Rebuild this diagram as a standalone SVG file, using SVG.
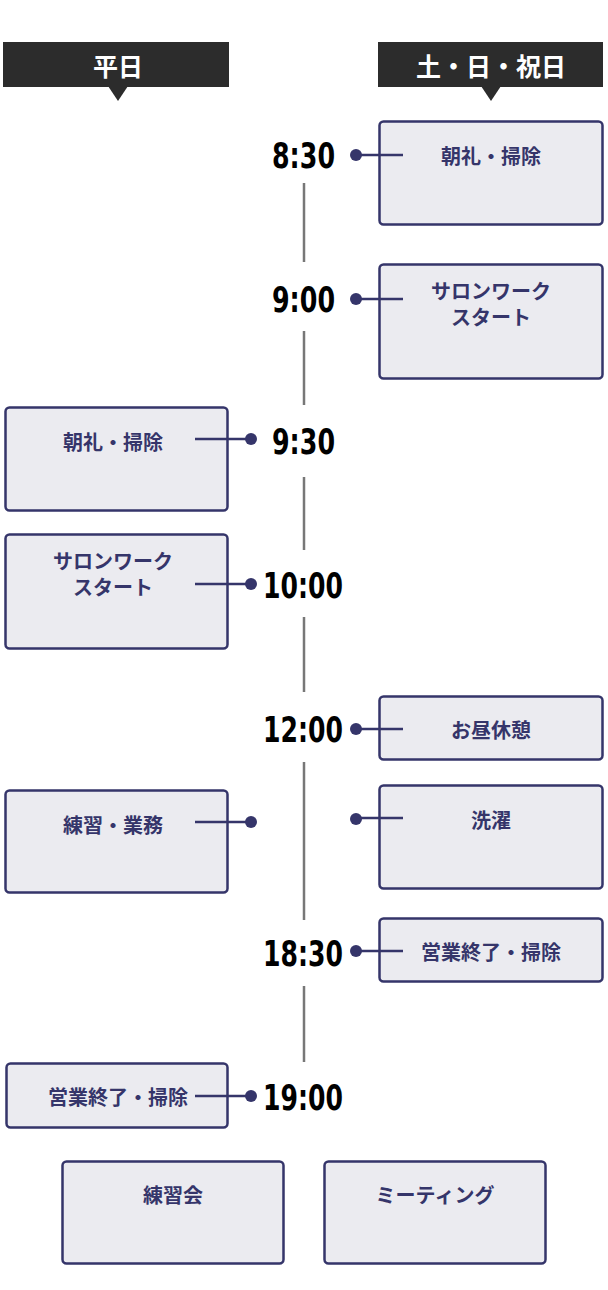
<svg xmlns="http://www.w3.org/2000/svg" width="608" height="1290" viewBox="0 0 608 1290">
<style>
.hdr{fill:#2c2c2c}
.hdrt{fill:#ffffff;font-family:"Noto Sans CJK JP",sans-serif;font-weight:700;font-size:25px;text-anchor:middle;dominant-baseline:central}
.box{fill:#ebebf0;stroke:#35356a;stroke-width:2.5}
.bt{fill:#35356a;font-family:"Noto Sans CJK JP",sans-serif;font-weight:700;font-size:20px;text-anchor:middle;dominant-baseline:central}
.tm{fill:#000000;font-family:"DejaVu Sans Condensed","DejaVu Sans",sans-serif;font-weight:700;font-size:36px;dominant-baseline:central}
.tl{stroke:#777777;stroke-width:2.5}
.cn{stroke:#35356a;stroke-width:2.5}
.dot{fill:#35356a}
</style>
<g id="header-weekday">
<rect class="hdr" x="3" y="42" width="226" height="45"/>
<polygon class="hdr" points="108,86 128,86 118,101"/>
<text class="hdrt" x="118" y="65">平日</text>
</g>
<g id="header-weekend">
<rect class="hdr" x="378" y="42" width="225" height="45"/>
<polygon class="hdr" points="481,86 501,86 491,101"/>
<text class="hdrt" x="491" y="65">土・日・祝日</text>
</g>
<g id="timeline">
<line class="tl" x1="304" y1="183" x2="304" y2="262"/>
<line class="tl" x1="304" y1="331" x2="304" y2="405"/>
<line class="tl" x1="304" y1="477" x2="304" y2="550"/>
<line class="tl" x1="304" y1="617" x2="304" y2="692"/>
<line class="tl" x1="304" y1="762" x2="304" y2="920"/>
<line class="tl" x1="304" y1="986" x2="304" y2="1062"/>
</g>
<g id="times">
<text class="tm" x="272" y="155" textLength="63" lengthAdjust="spacingAndGlyphs">8:30</text>
<text class="tm" x="272" y="299" textLength="63" lengthAdjust="spacingAndGlyphs">9:00</text>
<text class="tm" x="272" y="441" textLength="63" lengthAdjust="spacingAndGlyphs">9:30</text>
<text class="tm" x="263" y="585" textLength="80" lengthAdjust="spacingAndGlyphs">10:00</text>
<text class="tm" x="263" y="729" textLength="80" lengthAdjust="spacingAndGlyphs">12:00</text>
<text class="tm" x="263" y="953" textLength="80" lengthAdjust="spacingAndGlyphs">18:30</text>
<text class="tm" x="263" y="1097" textLength="80" lengthAdjust="spacingAndGlyphs">19:00</text>
</g>
<g id="n-weekend-morning">
<rect class="box" x="379.5" y="121.5" width="223" height="103" rx="4"/>
<text class="bt" x="491" y="155">朝礼・掃除</text>
</g>
<g id="n-weekend-salon">
<rect class="box" x="379.5" y="264.5" width="223" height="114" rx="4"/>
<text class="bt" x="491" y="290">サロンワーク</text>
<text class="bt" x="491" y="316">スタート</text>
</g>
<g id="n-weekday-morning">
<rect class="box" x="5.5" y="407.5" width="222" height="103" rx="4"/>
<text class="bt" x="113" y="441">朝礼・掃除</text>
</g>
<g id="n-weekday-salon">
<rect class="box" x="5.5" y="534.5" width="222" height="114" rx="4"/>
<text class="bt" x="113" y="560">サロンワーク</text>
<text class="bt" x="113" y="586">スタート</text>
</g>
<g id="n-lunch">
<rect class="box" x="379.5" y="696.5" width="223" height="63" rx="4"/>
<text class="bt" x="491" y="729">お昼休憩</text>
</g>
<g id="n-practice">
<rect class="box" x="5.5" y="790.5" width="222" height="102" rx="4"/>
<text class="bt" x="113" y="824">練習・業務</text>
</g>
<g id="n-laundry">
<rect class="box" x="379.5" y="785.5" width="223" height="103" rx="4"/>
<text class="bt" x="491" y="819">洗濯</text>
</g>
<g id="n-weekend-close">
<rect class="box" x="379.5" y="918.5" width="223" height="63" rx="4"/>
<text class="bt" x="491" y="951">営業終了・掃除</text>
</g>
<g id="n-weekday-close">
<rect class="box" x="6.5" y="1063.5" width="221" height="64" rx="4"/>
<text class="bt" x="118" y="1096">営業終了・掃除</text>
</g>
<g id="n-practice-meeting">
<rect class="box" x="62.5" y="1161.5" width="221" height="102" rx="4"/>
<text class="bt" x="173" y="1194">練習会</text>
</g>
<g id="n-meeting">
<rect class="box" x="324.5" y="1161.5" width="221" height="102" rx="4"/>
<text class="bt" x="435" y="1194">ミーティング</text>
</g>
<g id="connectors">
<line class="cn" x1="355" y1="155" x2="403" y2="155"/><circle class="dot" cx="356" cy="155" r="6"/>
<line class="cn" x1="355" y1="299" x2="403" y2="299"/><circle class="dot" cx="356" cy="299" r="6"/>
<line class="cn" x1="195" y1="439" x2="251" y2="439"/><circle class="dot" cx="251" cy="439" r="6"/>
<line class="cn" x1="195" y1="584" x2="251" y2="584"/><circle class="dot" cx="251" cy="584" r="6"/>
<line class="cn" x1="355" y1="729" x2="403" y2="729"/><circle class="dot" cx="356" cy="729" r="6"/>
<line class="cn" x1="195" y1="822" x2="251" y2="822"/><circle class="dot" cx="251" cy="822" r="6"/>
<line class="cn" x1="355" y1="818" x2="403" y2="818"/><circle class="dot" cx="356" cy="819" r="6"/>
<line class="cn" x1="355" y1="951" x2="403" y2="951"/><circle class="dot" cx="356" cy="951" r="6"/>
<line class="cn" x1="195" y1="1096" x2="251" y2="1096"/><circle class="dot" cx="251" cy="1096" r="6"/>
</g>
</svg>
